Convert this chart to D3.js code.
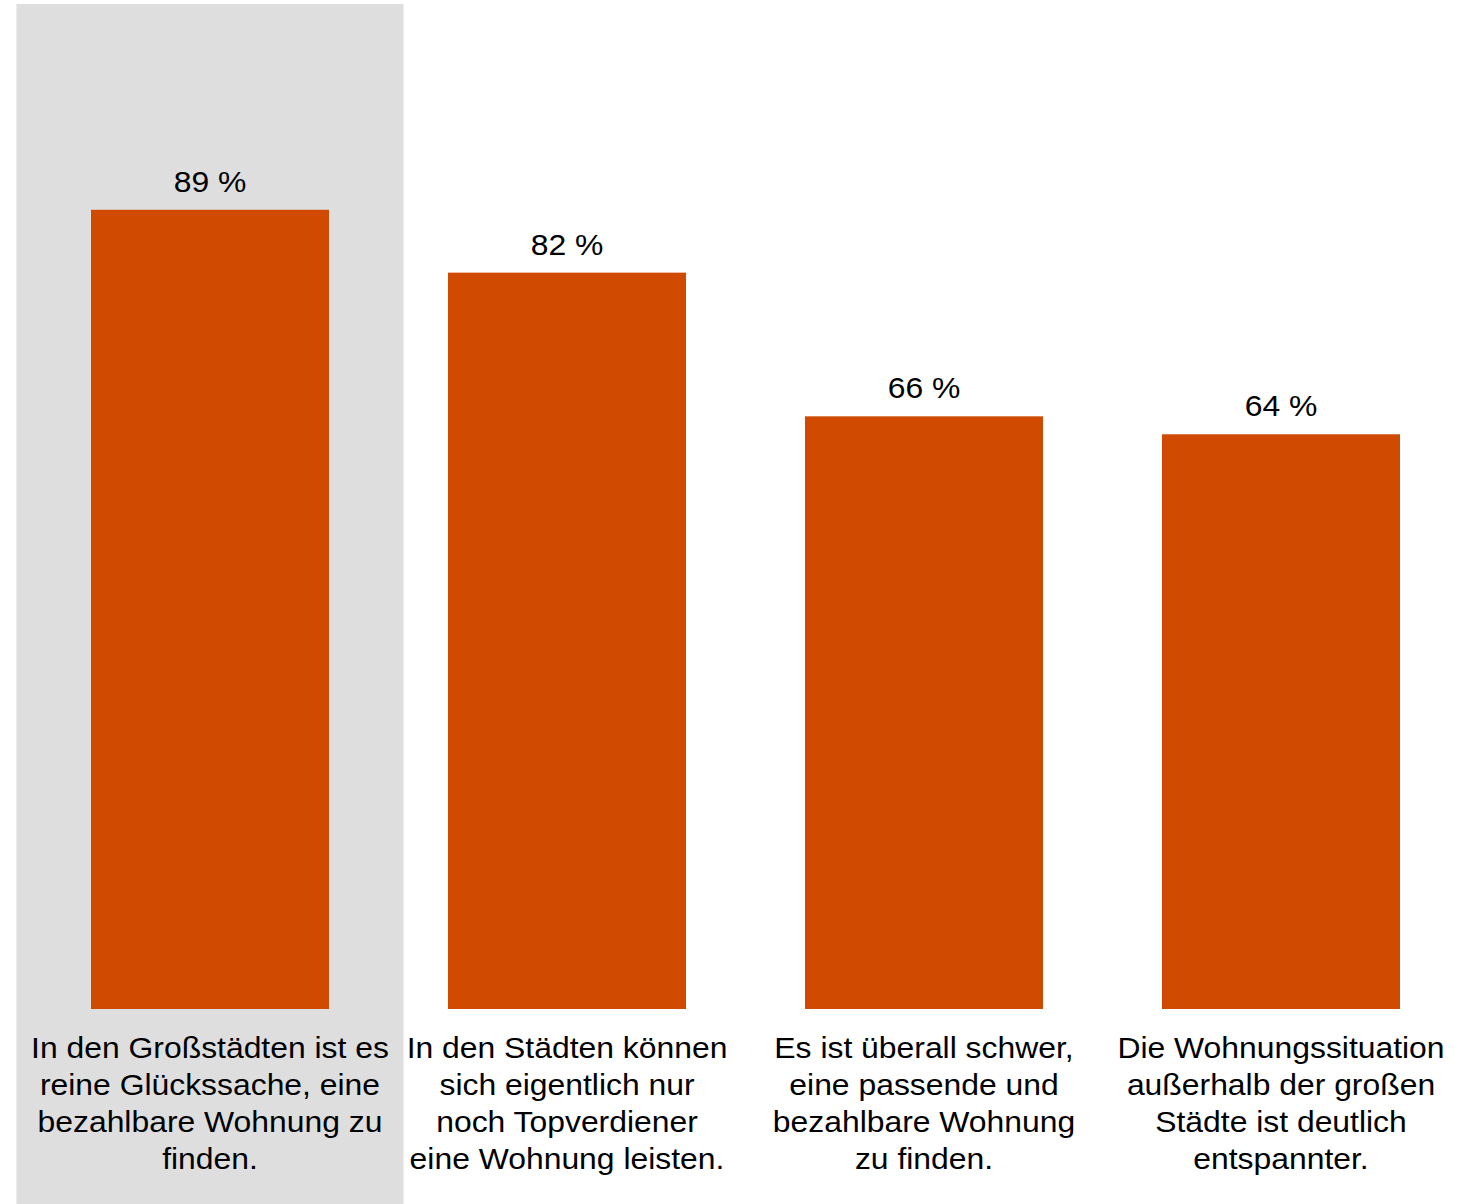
<!DOCTYPE html>
<html>
<head>
<meta charset="utf-8">
<script src="https://cdn.jsdelivr.net/npm/d3@7"></script>
<style>
  html, body { margin: 0; padding: 0; background: #fff; }
</style>
</head>
<body>
<div id="chart"></div>
<script>
// Data.
const categories = [
  ["In den Großstädten ist es", "reine Glückssache, eine", "bezahlbare Wohnung zu", "finden."],
  ["In den Städten können", "sich eigentlich nur", "noch Topverdiener", "eine Wohnung leisten."],
  ["Es ist überall schwer,", "eine passende und", "bezahlbare Wohnung", "zu finden."],
  ["Die Wohnungssituation", "außerhalb der großen", "Städte ist deutlich", "entspannter."],
];
const values = [89, 82, 66, 64];
const highlighted = [0];

// Size.
const width = 1476;
const height = 1204;
const baseline = 1009;
const fontFamily = "'Liberation Sans', Arial, sans-serif";
const fontSize = 30;
// The source font is drawn a bit wider than Arial.
const stretch = 1.063;

const svg = d3
  .select("#chart")
  .append("svg")
  .attr("width", width)
  .attr("height", height)
  .attr("font-family", fontFamily);

// Scales.
const x = d3
  .scaleBand()
  .domain(d3.range(values.length))
  .range([31.5, 1459.5])
  .paddingInner(1 / 3)
  .paddingOuter(1 / 6);

const y = d3.scaleLinear().domain([0, 100]).range([baseline, baseline - 898]);

const cx = (i) => x(i) + x.bandwidth() / 2;

// Highlight background.
svg
  .selectAll("rect.highlight")
  .data(highlighted)
  .join("rect")
  .attr("class", "highlight")
  .attr("x", (d) => cx(d) - 193.5)
  .attr("y", 4)
  .attr("width", 387)
  .attr("height", height - 4)
  .attr("fill", "#dedede");

// Bars.
svg
  .selectAll("rect.bar")
  .data(values)
  .join("rect")
  .attr("class", "bar")
  .attr("x", (d, i) => x(i))
  .attr("y", (d) => y(d))
  .attr("width", x.bandwidth())
  .attr("height", (d) => baseline - y(d))
  .attr("fill", "#d04a02");

// Value labels.
svg
  .selectAll("text.value")
  .data(values)
  .join("text")
  .attr("class", "value")
  .attr("transform", (d, i) => `translate(${cx(i)},${y(d) - 18}) scale(${stretch},1)`)
  .attr("text-anchor", "middle")
  .attr("font-size", fontSize)
  .attr("fill", "#000")
  .text((d) => `${d} %`);

// Category labels.
const labels = svg
  .selectAll("text.category")
  .data(categories)
  .join("text")
  .attr("class", "category")
  .attr("transform", (d, i) => `translate(${cx(i)},1058) scale(${stretch},1)`)
  .attr("text-anchor", "middle")
  .attr("font-size", fontSize)
  .attr("fill", "#000");

labels
  .selectAll("tspan")
  .data((d) => d)
  .join("tspan")
  .attr("x", 0)
  .attr("y", (d, j) => j * 37)
  .text((d) => d);
</script>
</body>
</html>
